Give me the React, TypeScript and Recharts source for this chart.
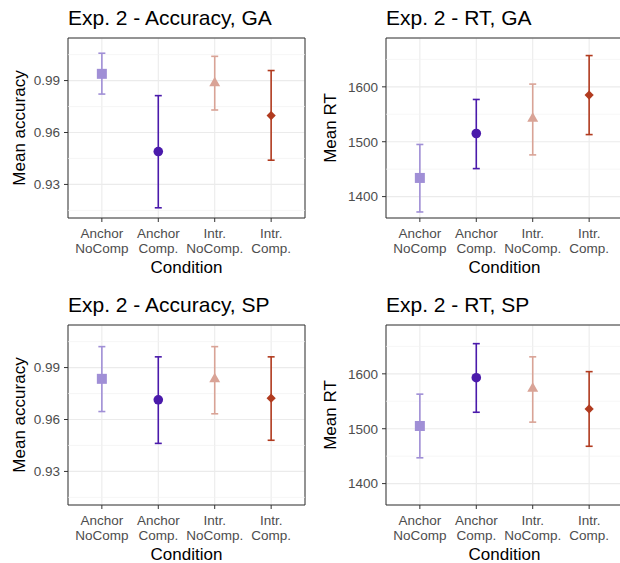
import React from 'react';
import {
  ScatterChart, Scatter, ErrorBar, XAxis, YAxis, CartesianGrid, ReferenceLine, ReferenceArea
} from 'recharts';

// conditions on the x axis (line break = second tick line)
const conditions = ['Anchor\nNoComp', 'Anchor\nComp.', 'Intr.\nNoComp.', 'Intr.\nComp.'];
const condColors = ['#A08FD6', '#4A1AAB', '#D9A396', '#B13B1F'];
const condShapes = ['square', 'circle', 'triangle', 'diamond'];

// accuracy, GA
const accGaMean = [0.9939, 0.949, 0.9885, 0.9698];
const accGaLow = [0.9822, 0.9165, 0.973, 0.944];
const accGaHigh = [1.0058, 0.9813, 1.004, 0.9958];

// RT, GA
const rtGaMean = [1434, 1515, 1542, 1585];
const rtGaLow = [1372, 1451, 1476, 1513];
const rtGaHigh = [1495, 1577, 1605, 1657];

// accuracy, SP
const accSpMean = [0.9835, 0.9714, 0.9833, 0.9723];
const accSpLow = [0.9646, 0.9462, 0.9633, 0.948];
const accSpHigh = [1.0021, 0.9962, 1.0021, 0.9962];

// RT, SP
const rtSpMean = [1505, 1593, 1573, 1536];
const rtSpLow = [1447, 1530, 1512, 1468];
const rtSpHigh = [1563, 1655, 1631, 1604];

const accDomain = [0.9106, 1.0146];
const accTicks = [0.93, 0.96, 0.99];
const accMinor = [0.915, 0.945, 0.975, 1.005];
const rtDomain = [1361, 1689];
const rtTicks = [1400, 1500, 1600];
const rtMinor = [1450, 1550, 1650];

const Marker = (props: any) => {
  const { cx, cy, kind, color } = props;
  if (cx == null || cy == null) return null;
  if (kind === 'square') {
    return <rect x={cx - 5} y={cy - 5} width={10} height={10} fill={color} />;
  }
  if (kind === 'circle') {
    return <circle cx={cx} cy={cy} r={4.8} fill={color} />;
  }
  if (kind === 'triangle') {
    const r = 6.3;
    const xc = r * 0.866;
    return (
      <polygon
        points={`${cx},${cy - r} ${cx + xc},${cy + r / 2} ${cx - xc},${cy + r / 2}`}
        fill={color}
      />
    );
  }
  const d = 4.6;
  return (
    <polygon points={`${cx},${cy - d} ${cx + d},${cy} ${cx},${cy + d} ${cx - d},${cy}`} fill={color} />
  );
};

const CondTick = (props: any) => {
  const { x, y, payload } = props;
  const label = conditions[Math.round(payload.value) - 1] ?? '';
  return (
    <text x={x} y={y} textAnchor="middle" fill="#4D4D4D" fontSize={13.5}>
      {label.split('\n').map((line, i) => (
        <tspan key={i} x={x} dy={i === 0 ? 13.5 : 15}>{line}</tspan>
      ))}
    </text>
  );
};

interface PanelProps {
  title: string;
  yLabel: string;
  means: number[];
  lows: number[];
  highs: number[];
  domain: number[];
  ticks: number[];
  minor: number[];
  digits: number;
  left: number;
  top: number;
  width: number;
  axisWidth: number;
  rightMargin: number;
  labelOffset: number;
}

const Panel: React.FC<PanelProps> = (p) => {
  const plotLeft = p.axisWidth;
  return (
    <div style={{ position: 'absolute', left: p.left, top: p.top, width: p.width, height: 280 }}>
      <ScatterChart width={p.width} height={280} margin={{ top: 38, right: p.rightMargin, bottom: 0, left: 0 }}>
        <CartesianGrid stroke="#EBEBEB" strokeWidth={1.1} />
        {p.minor.map((v) => (
          <ReferenceLine key={v} y={v} stroke="#F2F2F2" strokeWidth={0.7} />
        ))}
        <ReferenceArea
          x1={0.4} x2={4.6} y1={p.domain[0]} y2={p.domain[1]}
          fill="none" fillOpacity={0} stroke="#333333" strokeWidth={1}
        />
        <XAxis
          type="number" dataKey="x" domain={[0.4, 4.6]} ticks={[1, 2, 3, 4]}
          allowDataOverflow interval={0} height={62}
          axisLine={false} tickLine={{ stroke: '#333333' }} tickSize={4}
          tick={<CondTick />}
          label={{ value: 'Condition', position: 'insideBottom', offset: 7, fill: '#000', fontSize: 17 }}
        />
        <YAxis
          type="number" dataKey="y" domain={p.domain} ticks={p.ticks} allowDataOverflow
          width={p.axisWidth} axisLine={false} tickLine={{ stroke: '#333333' }} tickSize={4} tickMargin={4}
          tick={{ fill: '#4D4D4D', fontSize: 13.5 }}
          tickFormatter={(v: number) => v.toFixed(p.digits)}
          label={{
            value: p.yLabel, angle: -90, position: 'insideLeft', offset: p.labelOffset,
            fill: '#000', fontSize: 17, style: { textAnchor: 'middle' }
          }}
        />
        {conditions.map((c, i) => (
          <Scatter
            key={c}
            data={[{ x: i + 1, y: p.means[i], err: [p.means[i] - p.lows[i], p.highs[i] - p.means[i]] }]}
            shape={(sp: any) => <Marker {...sp} kind={condShapes[i]} color={condColors[i]} />}
            isAnimationActive={false}
          >
            <ErrorBar dataKey="err" direction="y" width={3.5} stroke={condColors[i]} strokeWidth={1.6} />
          </Scatter>
        ))}
      </ScatterChart>
      <svg
        width={p.width} height={40}
        style={{ position: 'absolute', left: 0, top: 0, pointerEvents: 'none' }}
      >
        <text x={plotLeft} y={25} fontSize={21} fill="#000">{p.title}</text>
      </svg>
    </div>
  );
};

export default function App() {
  return (
    <div
      style={{
        position: 'absolute', left: 0, top: 0, width: 620, height: 563, overflow: 'hidden',
        background: '#fff', fontFamily: '"Liberation Sans", Arial, sans-serif'
      }}
    >
      <Panel
        title="Exp. 2 - Accuracy, GA" yLabel="Mean accuracy"
        means={accGaMean} lows={accGaLow} highs={accGaHigh}
        domain={accDomain} ticks={accTicks} minor={accMinor} digits={2}
        left={0} top={0} width={310} axisWidth={68} rightMargin={5} labelOffset={18.5}
      />
      <Panel
        title="Exp. 2 - RT, GA" yLabel="Mean RT"
        means={rtGaMean} lows={rtGaLow} highs={rtGaHigh}
        domain={rtDomain} ticks={rtTicks} minor={rtMinor} digits={0}
        left={310} top={0} width={320} axisWidth={76} rightMargin={7} labelOffset={20}
      />
      <Panel
        title="Exp. 2 - Accuracy, SP" yLabel="Mean accuracy"
        means={accSpMean} lows={accSpLow} highs={accSpHigh}
        domain={accDomain} ticks={accTicks} minor={accMinor} digits={2}
        left={0} top={287} width={310} axisWidth={68} rightMargin={5} labelOffset={18.5}
      />
      <Panel
        title="Exp. 2 - RT, SP" yLabel="Mean RT"
        means={rtSpMean} lows={rtSpLow} highs={rtSpHigh}
        domain={rtDomain} ticks={rtTicks} minor={rtMinor} digits={0}
        left={310} top={287} width={320} axisWidth={76} rightMargin={7} labelOffset={20}
      />
    </div>
  );
}
